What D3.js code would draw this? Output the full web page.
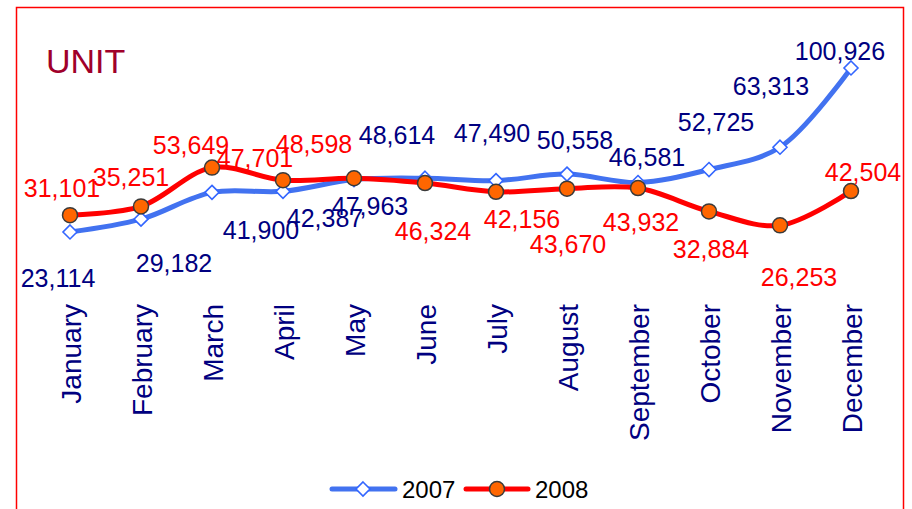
<!DOCTYPE html>
<html>
<head>
<meta charset="utf-8">
<script src="https://cdn.jsdelivr.net/npm/d3@7"></script>
<style>
  html, body { margin: 0; padding: 0; background: #fff; }
  svg { display: block; font-family: "Liberation Sans", Arial, sans-serif; }
</style>
</head>
<body>
<svg id="chart" width="912" height="509"></svg>
<script>
// ---- data ----
const months = ["January","February","March","April","May","June","July","August","September","October","November","December"];
const values2007 = [23114, 29182, 41900, 42387, 47963, 48614, 47490, 50558, 46581, 52725, 63313, 100926];
const values2008 = [31101, 35251, 53649, 47701, 48598, 46324, 42156, 43670, 43932, 32884, 26253, 42504];
const seriesNames = ["2007", "2008"];
const unitLabel = "UNIT";

// ---- layout: label offsets relative to each point (pixels) ----
const offsets2007 = [[-12,46],[33,44],[49,38],[42,27],[16,26],[-28,-43],[-4,-48],[8,-34],[9,-26],[7,-48],[-9,-61],[-11,-17]];
const offsets2008 = [[-8,-27],[-10,-29],[-21,-23],[-28,-22],[-40,-34],[8,48],[26,27],[1,55],[3,34],[2,38],[19,52],[12,-19]];

const svg = d3.select("#chart");
const fmt = d3.format(",");

const x = d3.scalePoint().domain(months).range([70, 851]);
const y = d3.scaleLinear().domain([0, 100000]).range([280.7, 69.9]);

// border
svg.append("rect").attr("x", 16.5).attr("y", 7.5).attr("width", 887).attr("height", 520)
  .attr("fill", "none").attr("stroke", "#ff0000").attr("stroke-width", 1.5);

// UNIT title
svg.append("text").attr("x", 46).attr("y", 73).attr("font-size", 34)
  .attr("fill", "#a0002a").text(unitLabel);

// month axis labels
const xAxis = d3.axisBottom(x).tickSize(0).tickPadding(0);
const axisG = svg.append("g").attr("transform", "translate(0,304)").call(xAxis);
axisG.select(".domain").remove();
axisG.selectAll("text")
  .attr("font-size", 28)
  .attr("font-family", "'Liberation Sans', Arial, sans-serif")
  .attr("fill", "#000080")
  .attr("transform", "rotate(-90)")
  .attr("text-anchor", "end")
  .attr("x", 0).attr("y", 0).attr("dy", "0.36em");

const line = d3.line()
  .x((d, i) => x(months[i]))
  .y(d => y(d))
  .curve(d3.curveCatmullRom.alpha(0.5));

const diamond = s => `M0,${-s}L${s},0L0,${s}L${-s},0Z`;

// 2007 series
svg.append("path").datum(values2007).attr("d", line)
  .attr("fill", "none").attr("stroke", "#4272f0").attr("stroke-width", 5)
  .attr("stroke-linejoin", "round").attr("stroke-linecap", "round");
svg.append("g").selectAll("path").data(values2007).join("path")
  .attr("transform", (d, i) => `translate(${x(months[i])},${y(d)})`)
  .attr("d", diamond(7))
  .attr("fill", "#ffffff").attr("stroke", "#3366ff").attr("stroke-width", 1.6);

// 2008 series
svg.append("path").datum(values2008).attr("d", line)
  .attr("fill", "none").attr("stroke", "#ff0000").attr("stroke-width", 5)
  .attr("stroke-linejoin", "round").attr("stroke-linecap", "round");
svg.append("g").selectAll("circle").data(values2008).join("circle")
  .attr("cx", (d, i) => x(months[i])).attr("cy", d => y(d)).attr("r", 7.5)
  .attr("fill", "#ff6600").attr("stroke", "#3a3a3a").attr("stroke-width", 1.5);

// data labels
svg.append("g").selectAll("text").data(values2007).join("text")
  .attr("x", (d, i) => x(months[i]) + offsets2007[i][0])
  .attr("y", (d, i) => y(d) + offsets2007[i][1])
  .attr("dy", "0.36em").attr("text-anchor", "middle")
  .attr("font-size", 25).attr("fill", "#000080")
  .text(d => fmt(d));
svg.append("g").selectAll("text").data(values2008).join("text")
  .attr("x", (d, i) => x(months[i]) + offsets2008[i][0])
  .attr("y", (d, i) => y(d) + offsets2008[i][1])
  .attr("dy", "0.36em").attr("text-anchor", "middle")
  .attr("font-size", 25).attr("fill", "#ff0000")
  .text(d => fmt(d));

// legend
const legend = svg.append("g");
const lg1 = legend.append("g").attr("transform", "translate(332,489)");
lg1.append("line").attr("x1", 0).attr("x2", 63).attr("stroke", "#4272f0").attr("stroke-width", 5).attr("stroke-linecap", "round");
lg1.append("path").attr("transform", "translate(31,0)").attr("d", diamond(7))
  .attr("fill", "#fff").attr("stroke", "#3366ff").attr("stroke-width", 1.6);
lg1.append("text").attr("x", 70).attr("y", 0).attr("dy", "0.36em").attr("font-size", 24).attr("fill", "#000").text(seriesNames[0]);

const lg2 = legend.append("g").attr("transform", "translate(466,489)");
lg2.append("line").attr("x1", 0).attr("x2", 62).attr("stroke", "#ff0000").attr("stroke-width", 5).attr("stroke-linecap", "round");
lg2.append("circle").attr("cx", 31).attr("cy", 0).attr("r", 7.5)
  .attr("fill", "#ff6600").attr("stroke", "#3a3a3a").attr("stroke-width", 1.5);
lg2.append("text").attr("x", 69).attr("y", 0).attr("dy", "0.36em").attr("font-size", 24).attr("fill", "#000").text(seriesNames[1]);
</script>
</body>
</html>
